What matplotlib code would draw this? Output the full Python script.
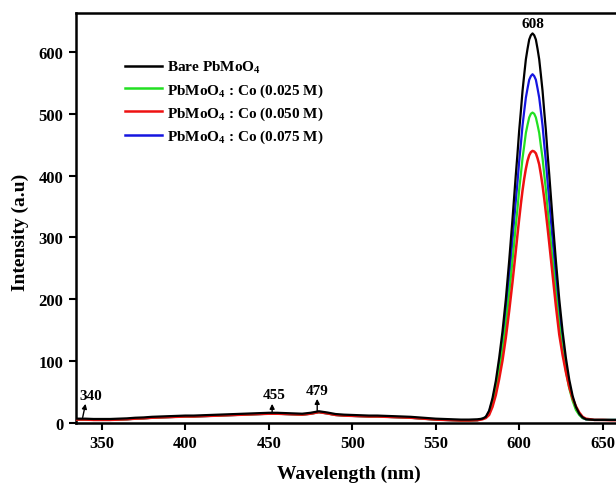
import matplotlib
matplotlib.use('Agg')
import matplotlib.pyplot as plt

plt.rcParams['font.family'] = ['Liberation Serif', 'DejaVu Serif']
plt.rcParams['font.weight'] = 'bold'
plt.rcParams['mathtext.fontset'] = 'custom'
plt.rcParams['mathtext.rm'] = 'Liberation Serif:bold'
plt.rcParams['mathtext.bf'] = 'Liberation Serif:bold'
plt.rcParams['mathtext.default'] = 'rm'

# ---- data ----
wl_base = [335, 340, 345, 350, 355, 360, 365, 370, 375, 380, 385, 390, 395, 400,
           405, 410, 415, 420, 425, 430, 435, 440, 445, 450, 455, 460, 465, 470,
           475, 480, 485, 490, 495, 500, 505, 510, 515, 520, 525, 530, 535, 540,
           545, 550, 555, 560, 565, 570, 575]
wl_peak = [578, 580, 582, 584, 586, 588, 590, 592, 594, 596,
           598, 599, 600, 601, 602, 603, 604, 605, 606, 607, 608, 609, 610, 611,
           612, 613, 614, 615, 616, 617, 618,
           620, 622, 624, 626, 628, 630, 632, 634, 636, 638, 640,
           645, 650, 655, 660]

black_base = [7, 7, 6.5, 6.5, 6.5, 7, 7.5, 8.5, 9, 10, 10.5, 11, 11.5, 12,
              12, 12.5, 13, 13.5, 14, 14.5, 15, 15.5, 16, 16.5, 16.5, 16, 15.5, 15,
              16.5, 19, 17, 14.5, 13.5, 13, 12.5, 12, 12, 11.5, 11, 10.5, 10, 9,
              8, 7, 6.5, 6, 5.5, 5.5, 6]
doped_base = [5.5, 5.5, 5, 5, 5, 5.5, 6, 7, 7.5, 8.5, 9, 9.5, 10, 10.5,
              10.5, 11, 11.5, 12, 12.5, 13, 13.5, 14, 14.5, 15, 15, 14.5, 14, 13.5,
              15, 17.5, 15.5, 13, 12, 11.5, 11, 10.5, 10.5, 10, 9.5, 9, 8.5, 7.5,
              6.5, 5.5, 5, 4.5, 4, 4, 4.5]

black_peak = [7, 10, 20, 40, 68, 105, 148, 200, 262, 330,
              402, 436, 473, 504, 537, 563, 588, 605, 620, 627, 630, 627, 620, 605,
              588, 563, 537, 504, 473, 436, 402,
              330, 262, 200, 148, 105, 70, 44, 26, 15, 9, 6,
              5, 5, 5, 5]
green_peak = [7, 9, 16, 32, 54, 84, 118, 159, 209, 263,
              320, 347, 377, 402, 428, 448, 469, 482, 494, 500, 502, 500, 494, 482,
              469, 448, 428, 402, 377, 347, 320,
              263, 209, 159, 118, 84, 56, 36, 21, 13, 8, 6,
              5, 5, 5, 5]
red_peak = [6, 8, 13, 26, 45, 71, 101, 138, 181, 228,
            279, 305, 330, 354, 376, 395, 411, 424, 433, 438, 440, 439, 436, 428,
            418, 402, 384, 363, 340, 316, 291,
            240, 189, 143, 110, 82, 58, 40, 27, 17, 10, 7,
            5, 5, 4.5, 4.5]
blue_peak = [7, 9, 18, 36, 61, 94, 133, 179, 235, 296,
             360, 390, 423, 451, 481, 504, 526, 541, 555, 561, 564, 561, 555, 541,
             526, 504, 481, 451, 423, 390, 360,
             296, 235, 179, 133, 94, 63, 40, 24, 14, 8, 6,
             5, 5, 5, 5]

labels = ['Bare PbMoO$_4$', 'PbMoO$_4$ : Co (0.025 M)',
          'PbMoO$_4$ : Co (0.050 M)', 'PbMoO$_4$ : Co (0.075 M)']
colors = ['#000000', '#22e022', '#ee1111', '#1515e0']

peak_labels = ['340', '455', '479', '608']
peak_pos = [340, 452, 479, 608]

wl = wl_base + wl_peak
black = black_base + black_peak
green = doped_base + green_peak
red = doped_base + red_peak
blue = doped_base + blue_peak

# ---- figure ----
W, H = 616, 489
fig = plt.figure(figsize=(W / 100, H / 100), dpi=100)
ax = fig.add_axes([76 / W, 1 - 424 / H, 1 - 76 / W, (424 - 14) / H])

l_blue, = ax.plot(wl, blue, color=colors[3], lw=1.6, zorder=2)
l_green, = ax.plot(wl, green, color=colors[1], lw=1.6, zorder=2)
l_red, = ax.plot(wl, red, color=colors[2], lw=1.8, zorder=3)
l_black, = ax.plot(wl, black, color=colors[0], lw=1.6, zorder=4)

ax.set_xlim(334.5, 658)
ax.set_ylim(0, 663)
ax.set_xticks([350, 400, 450, 500, 550, 600, 650])
ax.set_yticks([0, 100, 200, 300, 400, 500, 600])

for s in ['left', 'bottom', 'top']:
    ax.spines[s].set_linewidth(1.8)
ax.spines['right'].set_visible(False)
ax.tick_params(direction='out', length=5, width=1.5, labelsize=12, pad=4,
               top=False, right=False)
for lab in ax.get_xticklabels() + ax.get_yticklabels():
    lab.set_fontweight('bold')

fig.text(349 / W, 1 - 474 / H, 'Wavelength (nm)', ha='center', va='center',
         fontsize=14, fontweight='bold')
fig.text(20 / W, 1 - 232 / H, 'Intensity (a.u)', ha='center', va='center',
         rotation=90, fontsize=14, fontweight='bold')

leg = ax.legend([l_black, l_green, l_red, l_blue], labels, loc='upper left',
                bbox_to_anchor=((125 - 76) / 540, (424 - 60) / 410),
                frameon=False, prop={'family': 'Liberation Serif', 'weight': 'bold', 'size': 11},
                handlelength=2.4, handletextpad=0.35, labelspacing=0.4,
                borderpad=0, borderaxespad=0)
for ln in leg.get_lines():
    ln.set_linewidth(1.8)

# peak annotations
ap = dict(arrowstyle='-|>', color='black', lw=1.0, mutation_scale=7,
          shrinkA=0, shrinkB=0)
ax.text(343.5, 45, peak_labels[0], ha='center', va='center', fontsize=11, fontweight='bold')
ax.annotate('', xy=(340.2, 31), xytext=(338.5, 9), arrowprops=ap)
ax.text(453, 45.5, peak_labels[1], ha='center', va='center', fontsize=11, fontweight='bold')
ax.annotate('', xy=(peak_pos[1], 31), xytext=(peak_pos[1], 18), arrowprops=ap)
ax.text(479, 52, peak_labels[2], ha='center', va='center', fontsize=11, fontweight='bold')
ax.annotate('', xy=(peak_pos[2], 39), xytext=(peak_pos[2], 20), arrowprops=ap)
ax.text(608, 646, peak_labels[3], ha='center', va='center', fontsize=11, fontweight='bold')

fig.savefig('out.png', dpi=100)
